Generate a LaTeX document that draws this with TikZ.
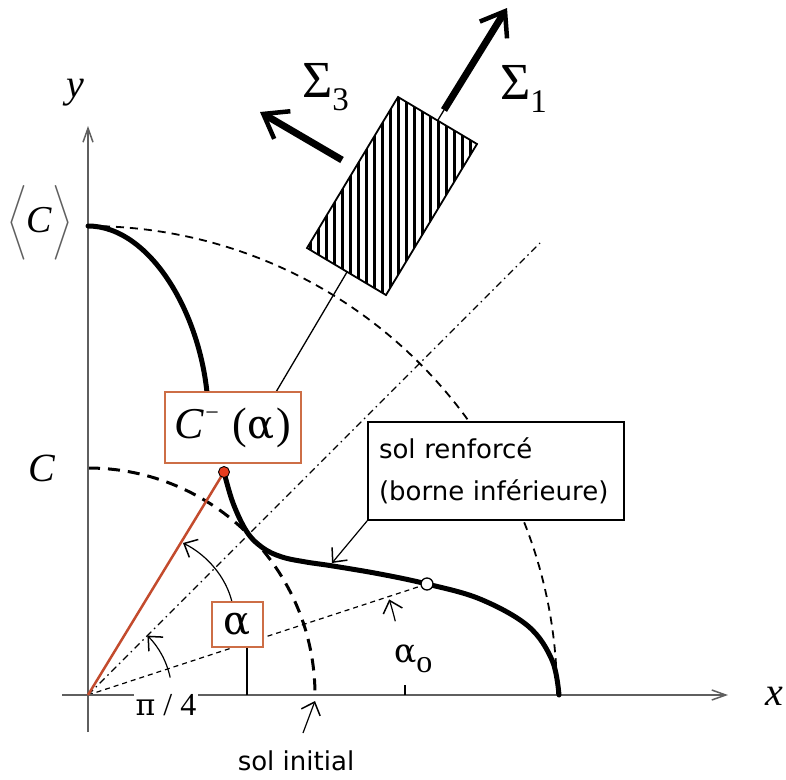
\RequirePackage{fix-cm}
\documentclass[tikz,border=0pt]{standalone}
\usepackage{amsmath}
\usepackage{fontspec}
\setmainfont{Liberation Serif}
\newfontfamily\sansf{DejaVu Sans}
\newfontfamily\grk{DejaVu Serif}
\usetikzlibrary{arrows.meta}
\definecolor{boxc}{RGB}{205,110,70}
\definecolor{redl}{RGB}{195,75,45}
\definecolor{redp}{RGB}{230,60,30}
\definecolor{axc}{RGB}{95,95,95}
\begin{document}
\begin{tikzpicture}[x=1pt,y=-1pt,
  barb/.style={-{Straight Barb[length=11pt,width=20pt,line width=1.5pt]}, line width=1.2pt},
  axisline/.style={axc, line width=1.8pt, -{Straight Barb[length=14pt,width=10pt,line width=1.5pt]}},
  bigarrow/.style={line width=7pt, -{Straight Barb[length=22pt,width=32pt,line width=4.5pt]}},
  bold/.style={line width=5pt, line cap=round},
  obox/.style={draw=boxc, line width=2pt, fill=white, inner sep=0pt},
  lbl/.style={inner sep=0pt},
]
\useasboundingbox (0,0) rectangle (786,779);

% coordinates
\coordinate (O) at (88,695);
\coordinate (xs) at (62,695);
\coordinate (xe) at (728,695);
\coordinate (ys) at (88,732);
\coordinate (ye) at (88,126);
\coordinate (Ctop) at (88,226);
\coordinate (Cin) at (88,468);
\coordinate (Cm) at (224,472);
\coordinate (P0) at (427,584);
\coordinate (D45) at (540,243);

% dashed circles
\draw[line width=1.8pt, dash pattern=on 8pt off 6pt] (Ctop) arc[start angle=-90,end angle=0,radius=469];
\draw[line width=3pt, dash pattern=on 12pt off 8pt] (Cin) arc[start angle=-90,end angle=0,radius=227];
% rays
\draw[line width=1.2pt, dash pattern=on 7pt off 4pt on 1.5pt off 4pt] (O) -- (D45);
\draw[line width=1.2pt, dash pattern=on 5pt off 4pt] (O) -- (P0);

% axes
\draw[axisline] (xs) -- (xe);
\draw[axisline] (ys) -- (ye);

% red line
\draw[redl, line width=2.5pt] (O) -- (Cm);

% bold curve
\draw[bold] (Ctop) .. controls (150,226) and (203,315) .. (208,405);
\draw[bold] plot[smooth, tension=0.6] coordinates {(224,472) (233,503) (247,532) (263,548) (282,557) (306,562) (333,566) (380,574) (427,584) (480,599) (528,626) (552,660) (559,695)};

% thin line to rectangle and sigma arrows
\coordinate (lk) at (276,392);
\coordinate (rc) at (392,196);
\coordinate (s1a) at (444,110);
\coordinate (s1b) at (507,8);
\coordinate (s3a) at (342,160);
\coordinate (s3b) at (260,112);
\draw[line width=1.3pt] (lk) -- (rc) -- (s1a);
\draw[bigarrow] (s1a) -- (s1b);
\draw[bigarrow] (s3a) -- (s3b);

% hatched rectangle
\coordinate (r1) at (398,97);
\coordinate (r2) at (477,144);
\coordinate (r3) at (386,295);
\coordinate (r4) at (307,248);
\begin{scope}
  \clip (r1) -- (r2) -- (r3) -- (r4) -- cycle;
  \fill[white] (300,90) rectangle (480,300);
  \foreach \hx in {302,310,...,478} \draw[line width=3pt] (\hx,90) -- (\hx,300);
\end{scope}
\draw[line width=1.8pt, line join=miter] (r1) -- (r2) -- (r3) -- (r4) -- cycle;

% labels for sigma
\node[lbl, anchor=base west] (sig3) at (302,97) {\fontsize{52}{54}\selectfont Σ\raisebox{-13pt}{\fontsize{33}{35}\selectfont 3}};
\node[lbl, anchor=base west] (sig1) at (500,99) {\fontsize{52}{54}\selectfont Σ\raisebox{-13pt}{\fontsize{33}{35}\selectfont 1}};

% C^-(alpha) box
\node[obox, minimum width=136pt, minimum height=71pt] (cbox) at (233,427.5)
  {\fontsize{44}{48}\selectfont\textit{C}\kern1pt\raisebox{18pt}{\fontsize{24}{26}\selectfont −}\hspace{14pt}({\grk\fontsize{40}{44}\selectfont α}\kern2pt)};

% sol renforce box
\node[draw, line width=1.5pt, fill=white, minimum width=256pt, minimum height=98pt, text width=234pt, align=left, inner sep=11pt, font=\sansf\fontsize{26}{42}\selectfont] (sbox) at (496,471)
  {sol renforcé\\(borne inférieure)};
\coordinate (srt) at (332,563);
\draw[barb] (sbox.south west) -- (srt);

% pi/4 arc
\draw[barb] ([shift={(-12:84)}]O) arc[start angle=-12,end angle=-45,radius=84];
\node[fill=white, inner xsep=2pt, inner ysep=1pt] (pi4) at (166,705) {\fontsize{32}{34}\selectfont{\grk\fontsize{30}{32}\selectfont π} / 4};

% alpha arc with box
\coordinate (aa) at (247,695);
\coordinate (ab) at (247,647);
\coordinate (ac) at (232,602);
\coordinate (ad) at (183,543);
\draw[line width=1.2pt] (aa) -- (ab);
\draw[barb] (ac) .. controls (226,577) and (207,555) .. (ad);
\node[obox, minimum width=51pt, minimum height=45pt] (abox) at (237.5,624.5) {\grk\fontsize{40}{42}\selectfont α};

% alpha0
\coordinate (t0a) at (405,695);
\coordinate (t0b) at (405,685);
\draw[line width=1.2pt] (t0a) -- (t0b);
\draw[barb] ([shift={(-13.5:316)}]O) arc[start angle=-13.5,end angle=-17.6,radius=316];
\node[lbl, anchor=base west] (a0) at (394,662) {{\grk\fontsize{33}{35}\selectfont α}\raisebox{-10pt}{\fontsize{32}{34}\selectfont o}};

% sol initial
\coordinate (sia) at (303,733);
\coordinate (sib) at (315,701);
\draw[barb] (sia) -- (sib);
\node[lbl, font=\sansf\fontsize{26}{28}\selectfont] (sinit) at (296,761) {sol initial};

% axis labels
\node[lbl] (ylab) at (75,93) {\fontsize{40}{42}\selectfont\textit{y}};
\node[lbl] (xlab) at (774,696) {\fontsize{40}{42}\selectfont\textit{x}};
\node[lbl] (clab) at (42,468) {\fontsize{40}{42}\selectfont\textit{C}};
\node[lbl] (cmean) at (40,223) {\fontsize{38}{46}\selectfont{\color{axc}$\Bigl\langle$}\kern-1pt\textit{C}\kern1pt{\color{axc}$\Bigr\rangle$}};

% points
\node[circle, fill=redp, draw=black, line width=0.9pt, inner sep=0pt, minimum size=11pt] (cmpt) at (Cm) {};
\node[circle, fill=white, draw=black, line width=1.3pt, inner sep=0pt, minimum size=12pt] (p0pt) at (P0) {};
\end{tikzpicture}
\end{document}
